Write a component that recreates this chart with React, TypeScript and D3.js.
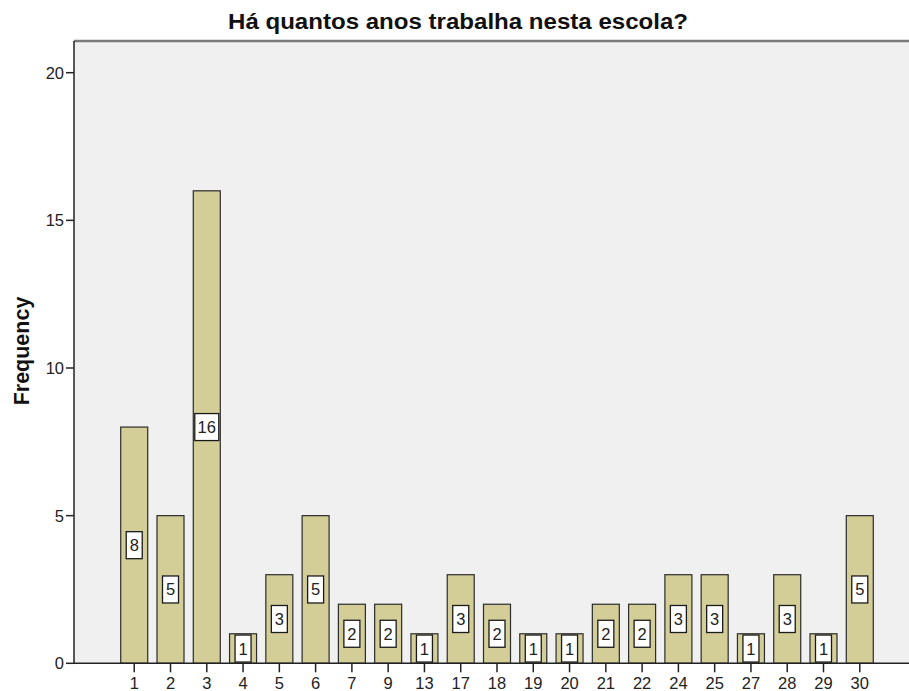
import React from "react";
import * as d3 from "d3";

const categories = ["1","2","3","4","5","6","7","9","13","17","18","19","20","21","22","24","25","27","28","29","30"];
const frequencies = [8,5,16,1,3,5,2,2,1,3,2,1,1,2,2,3,3,1,3,1,5];
const yTicks = [0,5,10,15,20];
const title = "Há quantos anos trabalha nesta escola?";
const yLabel = "Frequency";

export default function App() {
  const W = 909, H = 691;
  const left = 74, right = 920, top = 41, bottom = 663.3;
  const x = d3.scalePoint<string>().domain(categories).range([left, right]).padding(1.66);
  const y = d3.scaleLinear().domain([0, 20]).range([bottom, 72.7]);
  const bw = 27;
  const font = "Arial, 'Liberation Sans', sans-serif";
  return (
    <svg width={W} height={H} style={{ position: "absolute", left: 0, top: 0, background: "#fff" }} fontFamily={font}>
      <text x={458} y={28.5} textAnchor="middle" fontSize={22} fontWeight="bold" fill="#111" textLength={460} lengthAdjust="spacingAndGlyphs">{title}</text>
      <rect x={left} y={top} width={W - left} height={bottom - top} fill="#F0F0F0" />
      <line x1={left} x2={W} y1={top} y2={top} stroke="#7a7a7a" strokeWidth={2.5} />
      {categories.map((c, i) => {
        const v = frequencies[i];
        const cx = x(c)!;
        return (
          <rect key={"b" + c} x={cx - bw / 2} y={y(v)} width={bw} height={bottom - y(v)} fill="#D3CE98" stroke="#2b2b2b" strokeWidth={1.2} />
        );
      })}
      {categories.map((c, i) => {
        const v = frequencies[i];
        const cx = x(c)!;
        const cy = y(v / 2);
        const label = String(v);
        const w = label.length > 1 ? 24 : 16;
        const h = 27;
        return (
          <g key={"l" + c}>
            <rect x={cx - w / 2} y={cy - h / 2} width={w} height={h} fill="#fff" stroke="#1a1a1a" strokeWidth={1.3} />
            <text x={cx} y={cy + 6} textAnchor="middle" fontSize={16.5} fill="#222">{label}</text>
          </g>
        );
      })}
      <line x1={left} x2={left} y1={top} y2={bottom} stroke="#222" strokeWidth={1.5} />
      <line x1={left} x2={W} y1={bottom} y2={bottom} stroke="#222" strokeWidth={1.5} />
      {yTicks.map(t => (
        <g key={"y" + t}>
          <line x1={left - 8} x2={left} y1={y(t)} y2={y(t)} stroke="#222" strokeWidth={1.5} />
          <text x={left - 10} y={y(t) + 6} textAnchor="end" fontSize={16.5} fill="#222">{t}</text>
        </g>
      ))}
      {categories.map(c => (
        <g key={"x" + c}>
          <line x1={x(c)!} x2={x(c)!} y1={bottom} y2={bottom + 9} stroke="#222" strokeWidth={1.5} />
          <text x={x(c)!} y={689} textAnchor="middle" fontSize={16.5} fill="#222">{c}</text>
        </g>
      ))}
      <text transform={`translate(29,351) rotate(-90)`} textAnchor="middle" fontSize={21.5} fontWeight="bold" fill="#111">{yLabel}</text>
    </svg>
  );
}
